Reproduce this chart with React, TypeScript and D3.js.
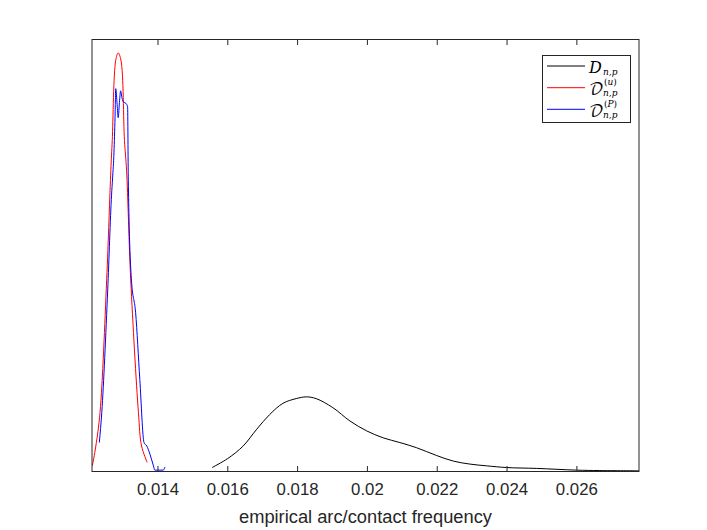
import React from "react";
import * as d3 from "d3";

// kernel density estimates: [frequency, density]
const arcPoints: [number, number][] = [
  [0.01555, 8], [0.016, 29], [0.01644, 58], [0.01683, 97], [0.0172, 131],
  [0.01758, 157], [0.01796, 168], [0.01825, 172], [0.01853, 168], [0.01901, 147],
  [0.0195, 116], [0.01998, 93], [0.02045, 77], [0.02093, 66], [0.02141, 54],
  [0.02198, 36], [0.02246, 23], [0.02294, 16], [0.02341, 12], [0.02399, 8],
  [0.02485, 6], [0.02599, 2], [0.02666, 1], [0.02778, 0.5],
];

const uniformPoints: [number, number][] = [
  [0.01212, 12], [0.01222, 58], [0.01234, 136], [0.01253, 443], [0.01265, 698],
  [0.01269, 767], [0.01279, 953], [0.01286, 970], [0.01294, 953], [0.01304, 767],
  [0.0131, 698], [0.01322, 443], [0.01344, 136], [0.01353, 58], [0.01369, 20],
];

const permPoints: [number, number][] = [
  [0.01232, 66], [0.01239, 136], [0.01256, 420], [0.01267, 640], [0.0127, 680],
  [0.01274, 740], [0.01277, 820], [0.01279, 887], [0.01283, 850], [0.01286, 820],
  [0.0129, 860], [0.01293, 882], [0.01297, 865], [0.01301, 856], [0.01308, 853],
  [0.01313, 845], [0.01315, 675], [0.01324, 443], [0.01336, 367], [0.01348, 212],
  [0.0136, 66], [0.01368, 58], [0.01377, 39], [0.01387, 12], [0.01391, 2],
  [0.01415, 2], [0.0142, 9],
];

const xTicks = [0.014, 0.016, 0.018, 0.02, 0.022, 0.024, 0.026];
const xTickLabels = ["0.014", "0.016", "0.018", "0.02", "0.022", "0.024", "0.026"];

const W = 707;
const H = 530;
const left = 92;
const right = 639;
const top = 40;
const bottom = 471;
const axisColor = "#262626";
const sans = "'Liberation Sans', Arial, Helvetica, sans-serif";
const serif = "'DejaVu Serif', 'Liberation Serif', serif";
const mathFont = "'DejaVu Math TeX Gyre', 'Noto Sans Math', serif";

export default function App() {
  const x = d3.scaleLinear().domain([0.01211, 0.02778]).range([left, right]);
  const y = d3.scaleLinear().domain([0, 1000]).range([bottom, top]);

  const smooth = d3
    .line<[number, number]>()
    .x((d) => x(d[0]))
    .y((d) => y(d[1]))
    .curve(d3.curveCatmullRom.alpha(0.5));
  const jagged = d3
    .line<[number, number]>()
    .x((d) => x(d[0]))
    .y((d) => y(d[1]))
    .curve(d3.curveMonotoneX);

  const series = [
    { key: "arc", color: "#000000", path: smooth(arcPoints) },
    { key: "unif", color: "#ff0000", path: smooth(uniformPoints) },
    { key: "perm", color: "#0000ff", path: jagged(permPoints) },
  ];

  const legendX = 542;
  const legendY = 55;
  const rowY = [66, 87.7, 109.3];

  return (
    <svg
      width={W}
      height={H}
      style={{ position: "absolute", left: 0, top: 0, background: "#fff" }}
    >
      <rect x={0} y={0} width={W} height={H} fill="#fff" />

      <clipPath id="plotclip">
        <rect x={left} y={top} width={right - left} height={bottom - top} />
      </clipPath>
      <g clipPath="url(#plotclip)">
        {series.map((s) => (
          <path key={s.key} d={s.path || ""} fill="none" stroke={s.color} strokeWidth={1} />
        ))}
      </g>

      {/* ticks, bottom and mirrored top */}
      {xTicks.map((t, i) => (
        <g key={t}>
          <line x1={x(t)} x2={x(t)} y1={bottom} y2={bottom - 5} stroke={axisColor} />
          <line x1={x(t)} x2={x(t)} y1={top} y2={top + 5} stroke={axisColor} />
          <text
            x={x(t)}
            y={494.5}
            textAnchor="middle"
            fontFamily={sans}
            fontSize={16.8}
            fill={axisColor}
          >
            {xTickLabels[i]}
          </text>
        </g>
      ))}

      {/* box */}
      <line x1={left} x2={right} y1={bottom + 0.5} y2={bottom + 0.5} stroke={axisColor} />
      <line x1={left} x2={right} y1={top - 0.5} y2={top - 0.5} stroke={axisColor} />
      <line x1={left} x2={left} y1={top - 1} y2={bottom + 1} stroke={axisColor} />
      <line x1={right} x2={right} y1={top - 1} y2={bottom + 1} stroke={axisColor} />

      <text
        x={(left + right) / 2}
        y={522.5}
        textAnchor="middle"
        fontFamily={sans}
        fontSize={18.3}
        fill={axisColor}
      >
        empirical arc/contact frequency
      </text>

      {/* legend */}
      <rect
        x={legendX + 0.5}
        y={legendY + 0.5}
        width={88}
        height={67}
        fill="#fff"
        stroke={axisColor}
        strokeWidth={1}
      />
      {series.map((s, i) => (
        <line
          key={s.key}
          x1={547}
          x2={585}
          y1={rowY[i]}
          y2={rowY[i]}
          stroke={s.color}
          strokeWidth={1}
        />
      ))}
      <text x={589} y={72.5} fontFamily={serif} fontStyle="italic" fontSize={16} fill="#000">
        D
      </text>
      <text x={603} y={74.5} fontFamily={serif} fontStyle="italic" fontSize={9} fill="#000">
        n,p
      </text>

      <text x={589} y={95} fontFamily={mathFont} fontSize={16} fill="#000">
        𝒟
      </text>
      <text x={604} y={85} fontFamily={serif} fontSize={9} fill="#000">
        (<tspan fontStyle="italic">u</tspan>)
      </text>
      <text x={603} y={96} fontFamily={serif} fontStyle="italic" fontSize={9} fill="#000">
        n,p
      </text>

      <text x={589} y={116.5} fontFamily={mathFont} fontSize={16} fill="#000">
        𝒟
      </text>
      <text x={604} y={107} fontFamily={serif} fontSize={9} fill="#000">
        (<tspan fontStyle="italic">P</tspan>)
      </text>
      <text x={603} y={117.5} fontFamily={serif} fontStyle="italic" fontSize={9} fill="#000">
        n,p
      </text>
    </svg>
  );
}
